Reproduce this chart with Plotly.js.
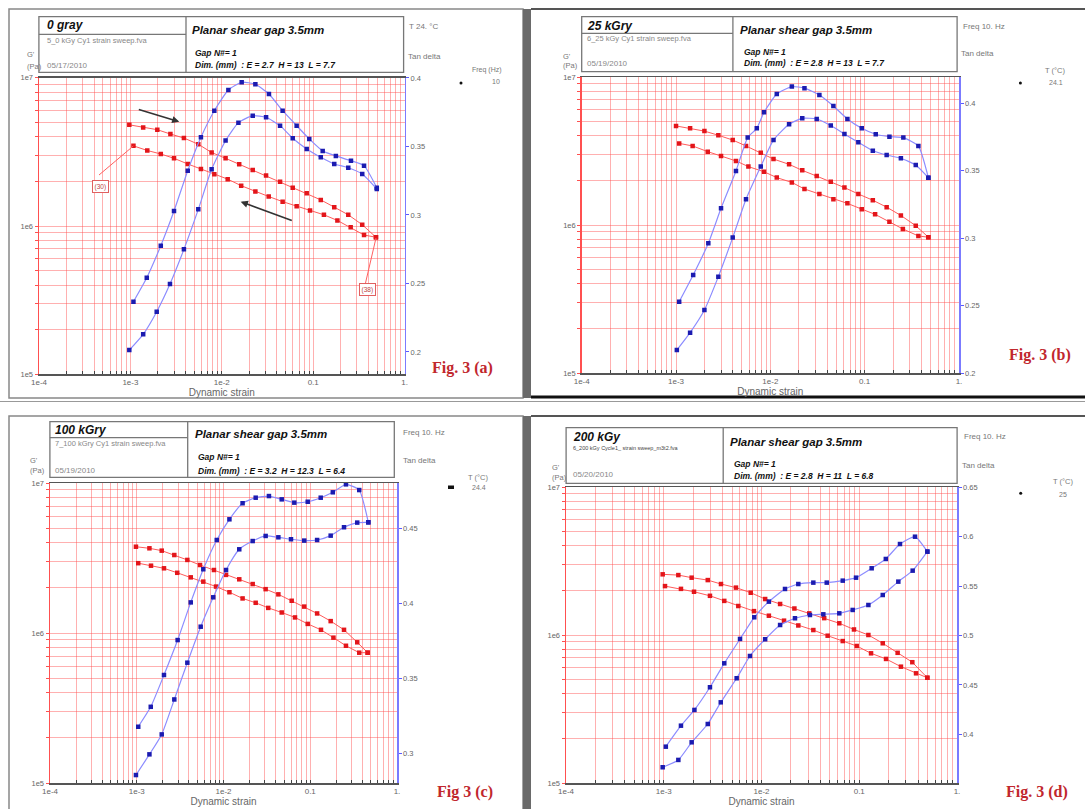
<!DOCTYPE html>
<html><head><meta charset="utf-8">
<script src="https://cdn.plot.ly/plotly-3.0.1.min.js"></script>
<style>html,body{margin:0;padding:0;background:#fff;}#chart{width:1085px;height:809px;}</style>
</head><body><div id="chart"></div>
<script>
// ---------- data ----------
// Panel (a) 0 gray
const A_redUpX = [9.73e-4,1.38e-3,1.97e-3,2.74e-3,3.85e-3,5.53e-3,7.74e-3,1.10e-2,1.55e-2,2.18e-2,3.05e-2,4.34e-2,5.97e-2,8.49e-2,0.121,0.170,0.242,0.344,0.486];
const A_redUpG = [4.81e6,4.61e6,4.46e6,4.17e6,3.92e6,3.56e6,3.13e6,2.86e6,2.61e6,2.39e6,2.19e6,1.99e6,1.81e6,1.66e6,1.50e6,1.34e6,1.19e6,1.02e6,8.40e5];
const A_redLoX = [1.08e-3,1.53e-3,2.15e-3,3.00e-3,4.24e-3,5.91e-3,8.28e-3,1.16e-2,1.63e-2,2.33e-2,3.26e-2,4.63e-2,6.59e-2,9.23e-2,0.131,0.184,0.257,0.360,0.486];
const A_redLoG = [3.47e6,3.23e6,3.06e6,2.86e6,2.62e6,2.42e6,2.23e6,2.07e6,1.87e6,1.71e6,1.58e6,1.46e6,1.36e6,1.27e6,1.19e6,1.09e6,9.80e5,8.69e5,8.40e5];
const A_tanHiX = [1.08e-3,1.51e-3,2.15e-3,3.00e-3,4.24e-3,5.91e-3,8.28e-3,1.18e-2,1.65e-2,2.33e-2,3.28e-2,4.63e-2,6.59e-2,9.06e-2,0.127,0.177,0.259,0.360,0.496];
const A_tanHi  = [0.2367,0.2542,0.2776,0.3029,0.3323,0.3567,0.3761,0.3912,0.3969,0.3954,0.3883,0.3761,0.3652,0.3555,0.3467,0.3431,0.3396,0.3360,0.3199];
const A_tanLoX = [9.73e-4,1.38e-3,1.94e-3,2.71e-3,3.85e-3,5.53e-3,7.74e-3,1.10e-2,1.52e-2,2.18e-2,3.05e-2,4.34e-2,5.97e-2,8.49e-2,0.121,0.170,0.242,0.344,0.496];
const A_tanLo  = [0.2014,0.2129,0.2294,0.2496,0.2749,0.3041,0.3333,0.3543,0.3674,0.3725,0.3713,0.3652,0.3560,0.3482,0.3421,0.3372,0.3345,0.3299,0.3190];
// Panel (b) 25 kGry
const B_redUpX = [1.00e-3,1.41e-3,2.00e-3,2.81e-3,3.99e-3,5.52e-3,7.91e-3,1.08e-2,1.58e-2,2.18e-2,3.10e-2,4.37e-2,6.10e-2,8.57e-2,0.122,0.171,0.242,0.348,0.473];
const B_redUpG = [4.67e6,4.50e6,4.31e6,4.04e6,3.75e6,3.42e6,3.08e6,2.79e6,2.57e6,2.34e6,2.14e6,1.96e6,1.79e6,1.62e6,1.47e6,1.32e6,1.16e6,9.89e5,8.27e5];
const B_redLoX = [1.08e-3,1.50e-3,2.17e-3,3.00e-3,4.32e-3,5.85e-3,8.57e-3,1.17e-2,1.69e-2,2.30e-2,3.31e-2,4.66e-2,6.56e-2,9.31e-2,0.129,0.183,0.254,0.371,0.473];
const B_redLoG = [3.56e6,3.42e6,3.13e6,2.93e6,2.71e6,2.48e6,2.29e6,2.09e6,1.94e6,1.75e6,1.62e6,1.49e6,1.40e6,1.28e6,1.18e6,1.05e6,9.40e5,8.43e5,8.27e5];
const B_tanHiX = [1.08e-3,1.52e-3,2.20e-3,3.00e-3,4.32e-3,5.75e-3,7.18e-3,8.57e-3,1.17e-2,1.69e-2,2.30e-2,3.31e-2,4.66e-2,6.56e-2,9.31e-2,0.131,0.183,0.257,0.371,0.473];
const B_tanHi  = [0.2528,0.2726,0.2961,0.3220,0.3497,0.3744,0.3813,0.3932,0.4067,0.4122,0.4110,0.4060,0.3978,0.3882,0.3813,0.3769,0.3751,0.3744,0.3682,0.3447];
const B_tanLoX = [1.02e-3,1.41e-3,2.00e-3,2.81e-3,3.99e-3,5.52e-3,7.91e-3,1.08e-2,1.58e-2,2.18e-2,3.10e-2,4.37e-2,6.10e-2,8.57e-2,0.122,0.171,0.242,0.348,0.473];
const B_tanLo  = [0.2170,0.2299,0.2467,0.2714,0.3003,0.3287,0.3529,0.3727,0.3843,0.3887,0.3882,0.3833,0.3771,0.3709,0.3647,0.3615,0.3591,0.3541,0.3447];
// Panel (c) 100 kGry
const C_redUpX = [9.79e-4,1.40e-3,1.94e-3,2.71e-3,3.83e-3,5.36e-3,7.76e-3,1.07e-2,1.52e-2,2.17e-2,3.06e-2,4.29e-2,6.11e-2,8.53e-2,0.120,0.172,0.245,0.348,0.459];
const C_redUpG = [3.76e6,3.67e6,3.54e6,3.31e6,3.07e6,2.84e6,2.63e6,2.44e6,2.28e6,2.12e6,1.96e6,1.81e6,1.64e6,1.50e6,1.35e6,1.20e6,1.05e6,8.67e5,7.39e5];
const C_redLoX = [1.04e-3,1.46e-3,2.06e-3,2.93e-3,4.19e-3,5.85e-3,8.20e-3,1.17e-2,1.66e-2,2.35e-2,3.28e-2,4.69e-2,6.67e-2,9.35e-2,0.133,0.185,0.258,0.367,0.459];
const C_redLoG = [2.92e6,2.81e6,2.70e6,2.52e6,2.35e6,2.20e6,2.04e6,1.87e6,1.70e6,1.59e6,1.47e6,1.37e6,1.27e6,1.15e6,1.05e6,9.31e5,8.22e5,7.39e5,7.39e5];
const C_tanHiX = [1.04e-3,1.45e-3,2.06e-3,2.96e-3,4.19e-3,5.85e-3,8.36e-3,1.17e-2,1.66e-2,2.35e-2,3.34e-2,4.69e-2,6.55e-2,9.35e-2,0.132,0.182,0.258,0.367,0.467];
const C_tanHi  = [0.3175,0.3308,0.3520,0.3753,0.4004,0.4225,0.4420,0.4558,0.4665,0.4702,0.4713,0.4691,0.4669,0.4675,0.4702,0.4738,0.4791,0.4753,0.4538];
const C_tanLoX = [9.79e-4,1.40e-3,1.94e-3,2.71e-3,3.83e-3,5.46e-3,7.62e-3,1.07e-2,1.52e-2,2.17e-2,3.06e-2,4.29e-2,6.00e-2,8.53e-2,0.120,0.172,0.245,0.348,0.467];
const C_tanLo  = [0.2853,0.2991,0.3124,0.3357,0.3602,0.3842,0.4038,0.4220,0.4358,0.4413,0.4447,0.4438,0.4425,0.4416,0.4420,0.4449,0.4505,0.4536,0.4538];
// Panel (d) 200 kGy
const D_redUpX = [9.75e-4,1.41e-3,1.93e-3,2.82e-3,3.85e-3,5.48e-3,7.76e-3,1.09e-2,1.55e-2,2.17e-2,3.08e-2,4.38e-2,6.25e-2,8.83e-2,0.124,0.174,0.247,0.349,0.497];
const D_redUpG = [2.57e6,2.54e6,2.44e6,2.35e6,2.21e6,2.09e6,1.93e6,1.75e6,1.62e6,1.51e6,1.40e6,1.30e6,1.20e6,1.09e6,1.00e6,8.79e5,7.58e5,6.55e5,5.14e5];
const D_redLoX = [1.03e-3,1.50e-3,2.04e-3,2.97e-3,4.16e-3,5.79e-3,8.37e-3,1.19e-2,1.70e-2,2.38e-2,3.39e-2,4.75e-2,6.78e-2,9.42e-2,0.132,0.188,0.267,0.381,0.497];
const D_redLoG = [2.14e6,2.05e6,1.96e6,1.84e6,1.70e6,1.57e6,1.45e6,1.35e6,1.25e6,1.16e6,1.08e6,9.89e5,9.10e5,8.43e5,7.52e5,6.89e5,6.11e5,5.51e5,5.14e5];
const D_tanHiX = [1.05e-3,1.50e-3,2.06e-3,2.97e-3,4.16e-3,6.03e-3,8.43e-3,1.19e-2,1.74e-2,2.38e-2,3.39e-2,4.65e-2,6.78e-2,9.27e-2,0.134,0.187,0.261,0.372,0.497];
const D_tanHi  = [0.3877,0.4089,0.4248,0.4477,0.4719,0.4965,0.5184,0.5342,0.5470,0.5520,0.5534,0.5534,0.5554,0.5584,0.5679,0.5773,0.5924,0.5998,0.5847];
const D_tanLoX = [9.75e-4,1.41e-3,1.93e-3,2.82e-3,3.83e-3,5.57e-3,7.62e-3,1.09e-2,1.55e-2,2.20e-2,3.13e-2,4.29e-2,6.25e-2,8.57e-2,0.124,0.174,0.251,0.352,0.497];
const D_tanLo  = [0.3669,0.3743,0.3921,0.4106,0.4325,0.4568,0.4793,0.4962,0.5106,0.5174,0.5207,0.5214,0.5224,0.5258,0.5308,0.5409,0.5544,0.5655,0.5847];

// tick labels
const X_TICK_LABELS = ['1e-4','1e-3','1e-2','0.1','1.'];
const G_TICK_LABELS = ['1e5','1e6','1e7'];
const A_tdTicks = [0.2,0.25,0.3,0.35,0.4];
const B_tdTicks = [0.2,0.25,0.3,0.35,0.4];
const C_tdTicks = [0.3,0.35,0.4,0.45];
const D_tdTicks = [0.35,0.4,0.45,0.5,0.55,0.6,0.65];

// ---------- layout helpers ----------
const W = 1085, H = 809;
const PX = v => v / W, PY = v => 1 - v / H;
const FONT = 'Liberation Sans, Arial, sans-serif';

function logTicks(lo, hi, labels) {
  const vals = [], text = [];
  for (let e = lo; e < hi; e++) for (let m = 1; m <= 9; m++) {
    vals.push(m * Math.pow(10, e)); text.push(m === 1 ? labels[e - lo] : '');
  }
  vals.push(Math.pow(10, hi)); text.push(labels[hi - lo]);
  return {vals, text};
}
const XT = logTicks(-4, 0, X_TICK_LABELS);
const GT = logTicks(5, 7, G_TICK_LABELS);

const PANELS = [
  {x0:39, x1:404.6, y0:77.7, y1:374.3, td:[0.1837,0.4002], tdT:A_tdTicks,
   s:[[A_redUpX,A_redUpG],[A_redLoX,A_redLoG],[A_tanHiX,A_tanHi],[A_tanLoX,A_tanLo]]},
  {x0:581.7, x1:959, y0:77, y1:373, td:[0.2,0.4193], tdT:B_tdTicks,
   s:[[B_redUpX,B_redUpG],[B_redLoX,B_redLoG],[B_tanHiX,B_tanHi],[B_tanLoX,B_tanLo]]},
  {x0:50, x1:397, y0:483, y1:783, td:[0.28,0.48], tdT:C_tdTicks,
   s:[[C_redUpX,C_redUpG],[C_redLoX,C_redLoG],[C_tanHiX,C_tanHi],[C_tanLoX,C_tanLo]]},
  {x0:566, x1:957, y0:487, y1:783, td:[0.351,0.65], tdT:D_tdTicks,
   s:[[D_redUpX,D_redUpG],[D_redLoX,D_redLoG],[D_tanHiX,D_tanHi],[D_tanLoX,D_tanLo]]}
];

const GRID = 'rgba(255,80,80,0.45)';
const traces = [];
const layout = {
  width: W, height: H, margin: {l:0, r:0, t:0, b:0},
  paper_bgcolor: '#fff', plot_bgcolor: '#fff', showlegend: false,
  font: {family: FONT, color: '#666'}, shapes: [], annotations: []
};

PANELS.forEach((p, i) => {
  const n = i + 1;
  const xa = n === 1 ? 'x' : 'x' + n;
  const gy = 2 * n - 1 === 1 ? 'y' : 'y' + (2 * n - 1);
  const ty = 'y' + (2 * n);
  layout['xaxis' + (n === 1 ? '' : n)] = {
    type: 'log', range: [-4, 0], domain: [PX(p.x0), PX(p.x1)], anchor: gy,
    tickmode: 'array', tickvals: XT.vals, ticktext: XT.text,
    showgrid: true, gridcolor: GRID, gridwidth: 1, zeroline: false,
    ticks: 'inside', ticklen: 3, tickcolor: '#444', tickwidth: 1,
    showline: true, linecolor: '#555', linewidth: 1.5, mirror: true,
    tickfont: {size: 8, color: '#666', family: FONT},
    title: {text: 'Dynamic strain', font: {size: 10, color: '#666', family: FONT}, standoff: 1}
  };
  layout['yaxis' + (gy === 'y' ? '' : (2 * n - 1))] = {
    type: 'log', range: [5, 7], domain: [PY(p.y1), PY(p.y0)], anchor: xa,
    tickmode: 'array', tickvals: GT.vals, ticktext: GT.text,
    showgrid: true, gridcolor: GRID, gridwidth: 1, zeroline: false,
    ticks: 'outside', ticklen: 3, tickcolor: '#ff5050',
    showline: true, linecolor: '#ff5050', linewidth: 1.5,
    tickfont: {size: 7.5, color: '#666', family: FONT}
  };
  layout['yaxis' + (2 * n)] = {
    overlaying: gy, side: 'right', anchor: xa, range: p.td,
    tickmode: 'array', tickvals: p.tdT, ticktext: p.tdT.map(String),
    showgrid: false, zeroline: false,
    showline: true, linecolor: '#7b7bff', linewidth: 1.5,
    ticks: 'outside', ticklen: 3, tickcolor: '#5a5aff',
    tickfont: {size: 7.5, color: '#666', family: FONT}
  };
  p.s.forEach((s, k) => {
    const red = k < 2;
    traces.push({
      type: 'scatter', mode: 'lines+markers', x: s[0], y: s[1],
      xaxis: xa, yaxis: red ? gy : ty, hoverinfo: 'skip',
      line: red ? {color: '#ff5a5a', width: 1} : {color: '#8c8cff', width: 1.2, shape: 'spline', smoothing: 0.5},
      marker: {symbol: 'square', size: 4.5, color: red ? '#e3151a' : '#1b1bb0'}
    });
  });
});

// ---------- frames ----------
const S = layout.shapes;
function rect(x0, y0, x1, y1, lc, lw, fill) {
  S.push({type:'rect', xref:'paper', yref:'paper', x0:PX(x0), x1:PX(x1), y0:PY(y1), y1:PY(y0),
    line:{color:lc, width:lw}, fillcolor: fill || 'rgba(0,0,0,0)', layer:'above'});
}
function seg(x0, y0, x1, y1, c, w) {
  S.push({type:'line', xref:'paper', yref:'paper', x0:PX(x0), x1:PX(x1), y0:PY(y0), y1:PY(y1),
    line:{color:c, width:w}, layer:'above'});
}
function dot(cx, cy, r) {
  S.push({type:'circle', xref:'paper', yref:'paper', x0:PX(cx - r), x1:PX(cx + r), y0:PY(cy + r), y1:PY(cy - r),
    line:{width:0}, fillcolor:'#111', layer:'above'});
}
rect(9, 9, 523, 398, '#888', 1.5);
rect(523, 9, 531, 398, '#666', 0, '#6a6a6a');
seg(531, 9, 1085, 9, '#555', 2);
seg(531, 397, 1085, 397, '#111', 3);
seg(0, 401.5, 1085, 401.5, '#999', 1);
rect(9, 416, 523, 812, '#888', 1.5);
rect(523, 416, 531, 812, '#666', 0, '#6a6a6a');
seg(531, 416, 1085, 416, '#555', 2);

// header boxes
function header(x0, y0, x1, y1, xd, yl) {
  rect(x0, y0, x1, y1, '#777', 1.3, 'rgba(255,255,255,0)');
  seg(xd, y0, xd, y1, '#777', 1.3);
  if (yl) seg(x0, yl, xd, yl, '#777', 1.3);
}
header(38.9, 16.7, 403.6, 72.3, 186, 34.3);
header(581.7, 16.7, 957.1, 71.7, 732.9, 33.3);
header(49.9, 421.7, 394.3, 477.3, 187.7, 437.7);
header(566.1, 427.7, 957.1, 483.3, 723.2, null);

// legend dots
dot(461, 83, 1.5);
dot(1020.4, 83, 1.5);
rect(448, 485.5, 454, 489, '#111', 0, '#111');
dot(1020.7, 493.3, 1.5);

// leader lines for point labels in (a)
seg(99, 175, 133.3, 146, '#ff6060', 1);
seg(365.5, 283, 376, 238, '#ff6060', 1);

// ---------- texts ----------
const A = layout.annotations;
function txt(x, y, t, size, color, anchor, fam) {
  A.push({xref:'paper', yref:'paper', x:PX(x), y:PY(y), text:t, showarrow:false,
    xanchor: anchor || 'left', yanchor:'middle',
    font:{size:size, color:color || '#777', family: fam || FONT}});
}
const BI = s => '<b><i>' + s + '</i></b>';
const HEADERS = [
  {lx:44.8, t1:'0 gray', t1y:25, file:'5_0 kGy Cy1 strain sweep.fva', fy:40, date:'05/17/2010', dy:65,
   rx:190.4, ry:30, gx:192.8, gyy:53, dimy:65, dim:'Dim. (mm)  : E = 2.7  H = 13  L = 7.7'},
  {lx:585.2, t1:'25 kGry', t1y:26, file:'6_25 kGy Cy1 strain sweep.fva', fy:39, date:'05/19/2010', dy:63.3,
   rx:738.1, ry:30, gx:741.6, gyy:52.3, dimy:63.3, dim:'Dim. (mm)  : E = 2.8  H = 13  L = 7.7'},
  {lx:53.4, t1:'100 kGry', t1y:430, file:'7_100 kGry Cy1 strain sweep.fva', fy:443.3, date:'05/19/2010', dy:470.7,
   rx:192.8, ry:434.3, gx:196.3, gyy:456.7, dimy:470.7, dim:'Dim. (mm)  : E = 3.2  H = 12.3  L = 6.4'},
  {lx:570.6, t1:'200 kGy', t1y:436.7, file:'6_200 kGy Cycle1_ strain sweep_m3t2.fva', fy:448.3, date:'05/20/2010', dy:475,
   rx:727.7, ry:441.7, gx:731.9, gyy:464, dimy:476, dim:'Dim. (mm)  : E = 2.8  H = 11  L = 6.8', small:true}
];
HEADERS.forEach(h => {
  txt(h.lx, h.t1y, BI(h.t1), 12, '#111');
  txt(h.lx, h.fy, h.file, h.small ? 5.5 : 7.5, h.small ? '#444' : '#888');
  txt(h.lx, h.dy, h.date, 8, '#888');
  txt(h.rx, h.ry, BI('Planar shear gap 3.5mm'), 11.5, '#111');
  txt(h.gx, h.gyy, BI('Gap N#= 1'), 8.5, '#111');
  txt(h.gx, h.dimy, BI(h.dim), 8.5, '#111');
});
// right-side labels
txt(407, 26, 'T 24. °C', 8);
txt(406, 57, 'Tan delta', 8);
txt(487, 70, 'Freq (Hz)', 7, '#777', 'center');
txt(496, 82, '10', 7, '#777', 'center');
txt(960.6, 26, 'Freq 10. Hz', 8);
txt(959, 53.3, 'Tan delta', 8);
txt(1055, 70, 'T (°C)', 7.5, '#777', 'center');
txt(1056, 83, '24.1', 7, '#777', 'center');
txt(401.2, 432.3, 'Freq 10. Hz', 8);
txt(401.2, 460, 'Tan delta', 8);
txt(478, 477.3, 'T (°C)', 7.5, '#777', 'center');
txt(479.3, 487.3, '24.4', 7, '#777', 'center');
txt(962.3, 436.7, 'Freq 10. Hz', 8);
txt(959.9, 466, 'Tan delta', 8);
txt(1063, 481.7, 'T (°C)', 7.5, '#777', 'center');
txt(1063, 494.3, '25', 7, '#777', 'center');
// G' labels
[[25, 55, 66], [560.9, 56, 65], [27.5, 460, 470], [550.4, 467, 477]].forEach(g => {
  txt(g[0], g[1], "G'", 7.5);
  txt(g[0], g[2], '(Pa)', 7.5);
});
// figure labels
const SERIF = 'Liberation Serif, DejaVu Serif, serif';
txt(462, 368, '<b>Fig. 3 (a)</b>', 16, '#c1272d', 'center', SERIF);
txt(1040, 355, '<b>Fig. 3 (b)</b>', 16, '#c1272d', 'center', SERIF);
txt(465, 792, '<b>Fig 3 (c)</b>', 16, '#c1272d', 'center', SERIF);
txt(1037, 792, '<b>Fig. 3 (d)</b>', 16, '#c1272d', 'center', SERIF);
// point-number boxes in (a)
[[92, 180, '(30)'], [359, 289, '(38)']].forEach(b => {
  A.push({xref:'paper', yref:'paper', x:PX(b[0]), y:PY(b[1]), text:b[2], showarrow:false,
    font:{size:6.5, color:'#b44', family:FONT}, bordercolor:'#e06060', borderwidth:1, borderpad:1.5, bgcolor:'#fff'});
});
// sweep-direction arrows in (a)
[[179.3, 121.7, 137.3, 109], [240.7, 201.7, 293.3, 221]].forEach(a => {
  A.push({xref:'paper', yref:'paper', x:PX(a[0]), y:PY(a[1]), axref:'paper', ayref:'paper',
    ax:PX(a[2]), ay:PY(a[3]), text:'', showarrow:true, arrowhead:2, arrowsize:0.9, arrowwidth:1.6, arrowcolor:'#333'});
});

Plotly.newPlot('chart', traces, layout, {staticPlot: true, displayModeBar: false});
</script>
</body></html>
